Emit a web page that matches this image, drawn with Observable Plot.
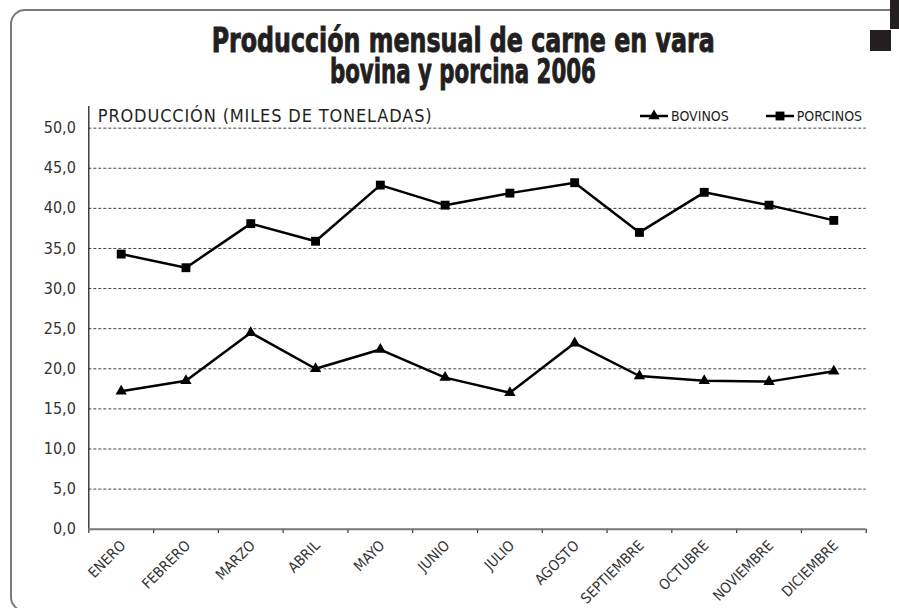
<!DOCTYPE html>
<html><head><meta charset="utf-8">
<script src="https://cdn.jsdelivr.net/npm/d3@7"></script>
<script src="https://cdn.jsdelivr.net/npm/@observablehq/plot@0.6"></script>
<style>
body{margin:0;background:#fff;}
#wrap{position:relative;width:899px;height:608px;overflow:hidden;background:#fff;}
#border{position:absolute;left:10px;top:9px;width:1000px;height:603px;border:2px solid #7a7a7a;border-radius:15px;box-sizing:border-box;}
.blk{position:absolute;background:#231f20;}
.tl{position:absolute;left:0;width:926px;height:31px;overflow:visible;text-align:center;font-family:'Liberation Sans Narrow','DejaVu Sans Condensed',sans-serif;font-weight:bold;font-size:34px;line-height:31px;color:#231f20;-webkit-text-stroke:0.9px #231f20;}
.tl span{display:inline-block;white-space:nowrap;}
#chart{position:absolute;left:0;top:0;}
#legend{position:absolute;top:106px;left:640px;font-family:'DejaVu Sans Condensed',sans-serif;font-size:14px;color:#231f20;display:flex;align-items:center;height:20px;}
#legend .it{display:flex;align-items:center;}
</style></head>
<body>
<div id="wrap">
  <div id="border"></div>
  <div class="blk" style="left:890px;top:0;width:9px;height:29px"></div>
  <div class="blk" style="left:870px;top:30px;width:21px;height:21px"></div>
  <div class="tl" style="top:25px"><span id="t1">Producción mensual de carne en vara</span></div>
  <div class="tl" style="top:56px"><span id="t2">bovina y porcina 2006</span></div>
  <div id="chart"></div>
  <div id="legend"></div>
</div>
<script>
const months = ["ENERO","FEBRERO","MARZO","ABRIL","MAYO","JUNIO","JULIO","AGOSTO","SEPTIEMBRE","OCTUBRE","NOVIEMBRE","DICIEMBRE"];
const bovinos = [17.2, 18.5, 24.5, 20.0, 22.4, 18.9, 17.0, 23.2, 19.1, 18.5, 18.4, 19.7];
const porcinos = [34.3, 32.6, 38.1, 35.9, 42.9, 40.4, 41.9, 43.2, 37.0, 42.0, 40.4, 38.5];
const seriesNames = ["BOVINOS", "PORCINOS"];
const seriesSymbols = ["triangle", "square"];
const yTicks = [0, 5, 10, 15, 20, 25, 30, 35, 40, 45, 50];
const yLabel = "PRODUCCIÓN (MILES DE TONELADAS)";

const cond = "'DejaVu Sans Condensed',sans-serif";
const rows = months.flatMap((m, i) => [
  {i, m, serie: seriesNames[0], v: bovinos[i]},
  {i, m, serie: seriesNames[1], v: porcinos[i]}
]);
const bounds = d3.range(months.length + 1).map(k => k - 0.5);

const chart = Plot.plot({
  width: 899, height: 608,
  marginLeft: 88.3, marginRight: 33.3, marginTop: 106, marginBottom: 79.3,
  x: {type: "linear", domain: [-0.5, months.length - 0.5], axis: null},
  y: {domain: [0, 52.7], axis: null},
  style: {fontFamily: cond, background: "transparent", overflow: "visible", color: "#231f20"},
  marks: [
    Plot.ruleY(yTicks.filter(d => d > 0), {x1: -0.5, x2: months.length - 0.5, stroke: "#444", strokeWidth: 1, strokeDasharray: "3,2"}),
    Plot.ruleX([-0.5], {y1: 0, y2: 52.7, stroke: "#222", strokeWidth: 1.3}),
    Plot.ruleX(bounds, {y1: 0, y2: -0.55, stroke: "#333", strokeWidth: 1.2}),
    Plot.ruleY([0], {x1: -0.5, x2: months.length - 0.5, stroke: "#777", strokeWidth: 2}),
    Plot.axisY({ticks: yTicks, tickSize: 0, tickPadding: 13, label: null, tickFormat: d => d.toFixed(1).replace(".", ","), fontSize: 16, fill: "#333"}),
    Plot.text(months, {x: (d, i) => i, y: 0, text: d => d, rotate: -45, textAnchor: "end", dx: 2, dy: 14, fontSize: 14.5, fill: "#333"}),
    Plot.text([yLabel], {frameAnchor: "top-left", lineAnchor: "middle", dx: 9, dy: 10, textAnchor: "start", fontSize: 18, fill: "#231f20"}),
    Plot.lineY(rows, {x: "i", y: "v", z: "serie", stroke: "#000", strokeWidth: 2.5}),
    Plot.dot(rows.filter(d => d.serie === seriesNames[0]), {x: "i", y: "v", symbol: () => seriesSymbols[0], fill: "#000", stroke: "none", r: 4.2}),
    Plot.dot(rows.filter(d => d.serie === seriesNames[1]), {x: "i", y: "v", symbol: () => seriesSymbols[1], fill: "#000", stroke: "none", r: 5})
  ]
});
document.getElementById("chart").appendChild(chart);
d3.select(chart).selectAll("text").filter(function() { return this.textContent === yLabel; }).style("letter-spacing", "0.85px");

// legend
const leg = d3.select("#legend");
seriesNames.forEach((name, k) => {
  const it = leg.append("div").attr("class", "it").style("margin-left", k ? "37px" : "0");
  const s = it.append("svg").attr("width", 31).attr("height", 14);
  s.append("line").attr("x1", 0).attr("x2", 28).attr("y1", 7).attr("y2", 7).attr("stroke", "#000").attr("stroke-width", 2.5);
  const sym = k === 0 ? d3.symbolTriangle : d3.symbolSquare;
  const r = k === 0 ? 4.2 : 5;
  s.append("path").attr("transform", "translate(14,7)").attr("d", d3.symbol(sym, Math.PI * r * r)()).attr("fill", "#000");
  it.append("span").text(name);
});

// fit title widths
const fit = (id, w) => { const el = document.getElementById(id); const cw = el.getBoundingClientRect().width; el.style.transform = `scaleX(${w / cw})`; };
fit("t1", 503);
fit("t2", 266);
</script>
</body></html>
